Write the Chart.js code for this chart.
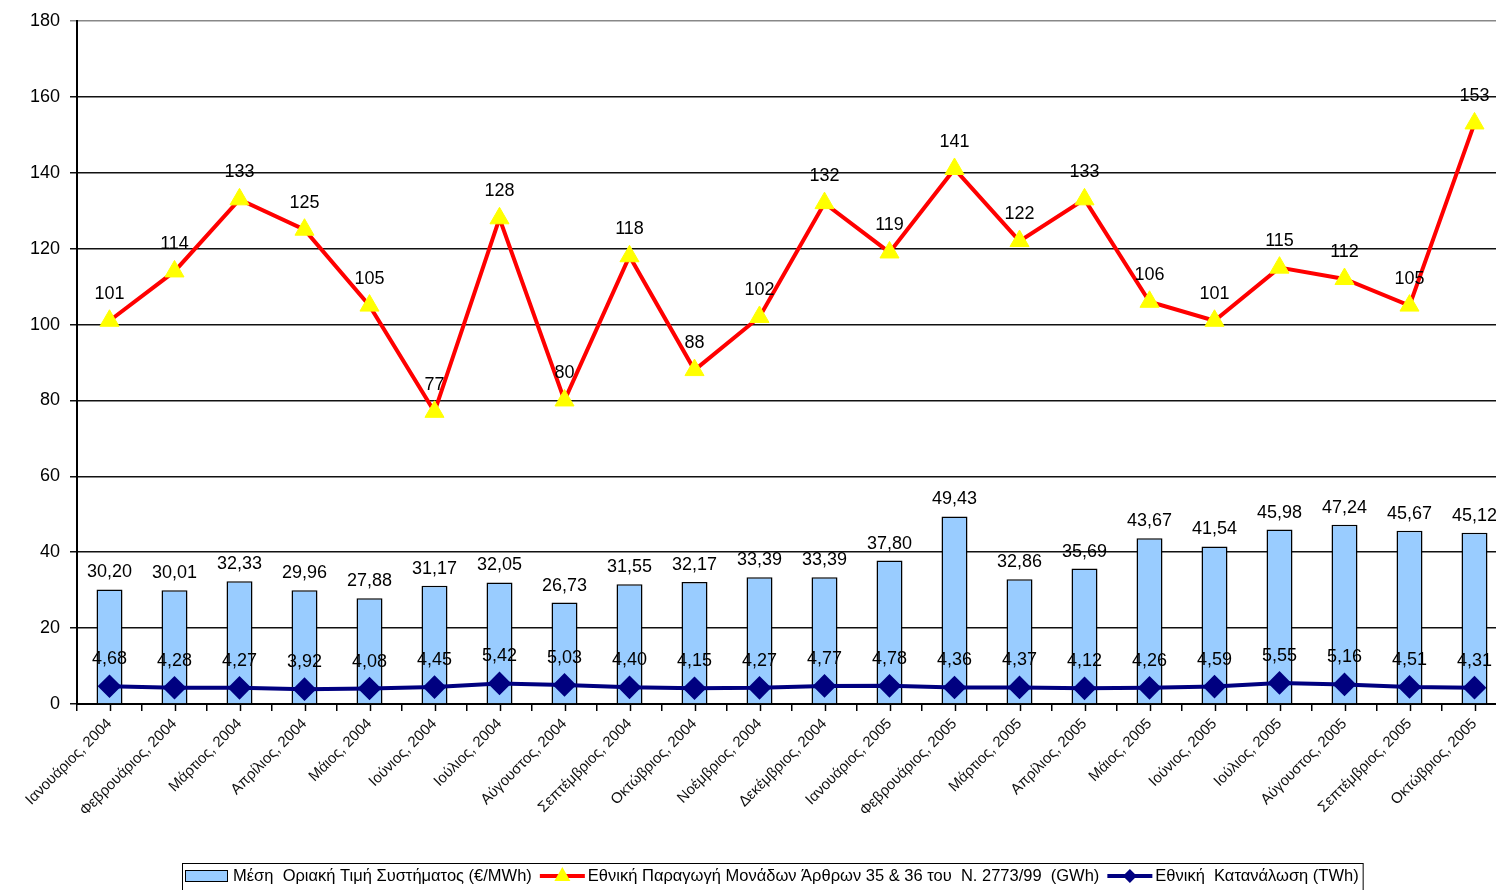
<!DOCTYPE html>
<html>
<head>
<meta charset="utf-8">
<script src="https://cdn.jsdelivr.net/npm/chart.js@4/dist/chart.umd.min.js"></script>
<style>
    html, body { margin: 0; padding: 0; background: #fff; overflow: hidden; }
    #wrap { width: 1530px; height: 890px; }
</style>
</head>
<body>
<div id="wrap"><canvas id="chart"></canvas></div>
<script>
const MONTHS = [
    'Ιανουάριος, 2004', 'Φεβρουάριος, 2004', 'Μάρτιος, 2004', 'Απρίλιος, 2004',
    'Μάιος, 2004', 'Ιούνιος, 2004', 'Ιούλιος, 2004', 'Αύγουστος, 2004',
    'Σεπτέμβριος, 2004', 'Οκτώβριος, 2004', 'Νοέμβριος, 2004', 'Δεκέμβριος, 2004',
    'Ιανουάριος, 2005', 'Φεβρουάριος, 2005', 'Μάρτιος, 2005', 'Απρίλιος, 2005',
    'Μάιος, 2005', 'Ιούνιος, 2005', 'Ιούλιος, 2005', 'Αύγουστος, 2005',
    'Σεπτέμβριος, 2005', 'Οκτώβριος, 2005',
];

// Μέση Οριακή Τιμή Συστήματος (€/MWh)
const PRICE = [
    30.20, 30.01, 32.33, 29.96, 27.88, 31.17, 32.05, 26.73, 31.55, 32.17, 33.39,
    33.39, 37.80, 49.43, 32.86, 35.69, 43.67, 41.54, 45.98, 47.24, 45.67, 45.12,
];

// Εθνική Παραγωγή Μονάδων Άρθρων 35 & 36 (GWh)
const PRODUCTION = [
    101, 114, 133, 125, 105, 77, 128, 80, 118, 88, 102,
    132, 119, 141, 122, 133, 106, 101, 115, 112, 105, 153,
];

// Εθνική Κατανάλωση (TWh)
const CONSUMPTION = [
    4.68, 4.28, 4.27, 3.92, 4.08, 4.45, 5.42, 5.03, 4.40, 4.15, 4.27,
    4.77, 4.78, 4.36, 4.37, 4.12, 4.26, 4.59, 5.55, 5.16, 4.51, 4.31,
];

const Y_MIN = 0;
const Y_MAX = 180;
const Y_STEP = 20;

const FONT = '"Liberation Sans", Arial, sans-serif';

const comma = (v, d) => v.toFixed(d).replace('.', ',');

// value labels above every mark
const valueLabels = {
    id: 'valueLabels',
    afterDatasetsDraw(chart) {
        const { ctx } = chart;
        ctx.save();
        ctx.font = '18px ' + FONT;
        ctx.fillStyle = '#000';
        ctx.textAlign = 'center';
        ctx.textBaseline = 'alphabetic';
        chart.data.datasets.forEach((ds, i) => {
            const meta = chart.getDatasetMeta(i);
            meta.data.forEach((el, j) => {
                const v = ds.data[j];
                let text, dy;
                if (ds.type === 'bar') { text = comma(v, 2); dy = 12; }
                else if (ds.decimals) { text = comma(v, 2); dy = 22; }
                else { text = String(v); dy = 22; }
                ctx.fillText(text, el.x, el.y - dy);
            });
        });
        ctx.restore();
    },
};

// extra tick marks at category centres + boxed legend
const extras = {
    id: 'extras',
    afterDraw(chart) {
        const { ctx, chartArea } = chart;
        const xs = chart.scales.x;
        ctx.save();
        ctx.strokeStyle = '#000';
        ctx.lineWidth = 1.5;
        for (let i = 0; i < MONTHS.length; i++) {
            const x = Math.round(xs.getPixelForValue(i)) + 0.5;
            ctx.beginPath();
            ctx.moveTo(x, chartArea.bottom);
            ctx.lineTo(x, chartArea.bottom + 7);
            ctx.stroke();
        }

        // legend
        ctx.font = '16.5px ' + FONT;
        ctx.textBaseline = 'middle';
        const items = chart.data.datasets.map(ds => ({ ds, w: ctx.measureText(ds.label).width }));
        const sw = 45, gap = 3, sep = 8, padL = 3, padR = 4;
        const total = padL + items.reduce((s, it) => s + sw + gap + it.w, 0) + sep * (items.length - 1) + padR;
        const left = Math.round((chartArea.left + chartArea.right) / 2 - 20 - total / 2);
        const top = chart.height - 27;
        const cy = top + 13;
        ctx.strokeStyle = '#000';
        ctx.lineWidth = 1;
        ctx.strokeRect(left + 0.5, top + 0.5, total, 40);
        let x = left + padL;
        items.forEach(({ ds, w }) => {
            if (ds.type === 'bar') {
                ctx.fillStyle = ds.backgroundColor;
                ctx.fillRect(x, cy - 6, sw - 2, 12);
                ctx.strokeStyle = '#000';
                ctx.lineWidth = 1;
                ctx.strokeRect(x + 0.5, cy - 5.5, sw - 3, 11);
            } else {
                ctx.strokeStyle = ds.borderColor;
                ctx.lineWidth = 4;
                ctx.beginPath();
                ctx.moveTo(x, cy);
                ctx.lineTo(x + sw, cy);
                ctx.stroke();
                const mx = x + sw / 2;
                ctx.fillStyle = ds.pointBackgroundColor;
                ctx.beginPath();
                if (ds.pointStyle === 'triangle') {
                    ctx.moveTo(mx, cy - 9);
                    ctx.lineTo(mx + 8, cy + 5);
                    ctx.lineTo(mx - 8, cy + 5);
                } else {
                    ctx.moveTo(mx, cy - 7);
                    ctx.lineTo(mx + 7, cy);
                    ctx.lineTo(mx, cy + 7);
                    ctx.lineTo(mx - 7, cy);
                }
                ctx.closePath();
                ctx.fill();
            }
            x += sw + gap;
            ctx.fillStyle = '#000';
            ctx.textAlign = 'left';
            ctx.fillText(ds.label, x, cy);
            x += w + sep;
        });
        ctx.restore();
    },
};

new Chart(document.getElementById('chart'), {
    data: {
        labels: MONTHS,
        datasets: [
            {
                type: 'bar',
                label: 'Μέση  Οριακή Τιμή Συστήματος (€/MWh)',
                data: PRICE,
                backgroundColor: '#99CCFF',
                borderColor: '#000',
                borderWidth: 1.5,
                barPercentage: 0.4,
                categoryPercentage: 1,
                order: 3,
            },
            {
                type: 'line',
                label: 'Εθνική Παραγωγή Μονάδων Άρθρων 35 & 36 του  Ν. 2773/99  (GWh)',
                data: PRODUCTION,
                borderColor: '#FF0000',
                borderWidth: 4,
                pointStyle: 'triangle',
                pointRadius: 11,
                pointBackgroundColor: '#FFFF00',
                pointBorderColor: '#FFFF00',
                pointBorderWidth: 1,
                tension: 0,
                order: 1,
            },
            {
                type: 'line',
                label: 'Εθνική  Κατανάλωση (TWh)',
                data: CONSUMPTION,
                decimals: true,
                borderColor: '#000080',
                borderWidth: 4,
                pointStyle: 'rectRot',
                pointRadius: 9,
                pointBackgroundColor: '#000080',
                pointBorderColor: '#000080',
                tension: 0,
                order: 2,
            },
        ],
    },
    options: {
        responsive: true,
        maintainAspectRatio: false,
        animation: false,
        layout: { padding: { top: 21, left: 0, right: 23, bottom: 36 } },
        plugins: {
            legend: { display: false },
            tooltip: { enabled: false },
        },
        scales: {
            x: {
                offset: true,
                grid: { drawOnChartArea: false, tickLength: 7, color: '#000', lineWidth: 1.5 },
                border: { color: '#000', width: 2 },
                ticks: {
                    autoSkip: false,
                    maxRotation: 45,
                    minRotation: 45,
                    padding: 4,
                    color: '#111',
                    font: { family: FONT, size: 15 },
                },
                afterFit(scale) { scale.height = 150; },
            },
            y: {
                min: Y_MIN,
                max: Y_MAX,
                ticks: {
                    stepSize: Y_STEP,
                    padding: 10,
                    color: '#000',
                    font: { family: FONT, size: 18 },
                },
                grid: {
                    color: ctx => (ctx.tick && ctx.tick.value === Y_MAX ? '#888' : '#111'),
                    lineWidth: 1.5,
                    tickLength: 7,
                },
                border: { color: '#000', width: 2 },
                afterFit(scale) { scale.width = 77; },
            },
        },
    },
    plugins: [valueLabels, extras],
});
</script>
</body>
</html>
